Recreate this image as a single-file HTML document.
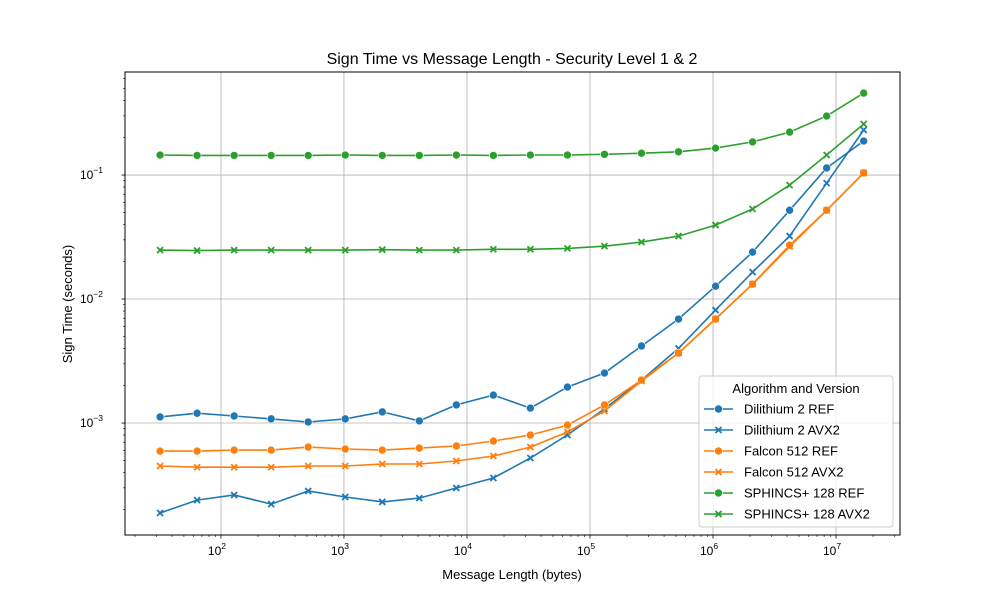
<!DOCTYPE html>
<html><head><meta charset="utf-8"><style>
body{margin:0;background:#fff}
svg{display:block;font-family:"Liberation Sans","DejaVu Sans",sans-serif}
</style></head><body>
<svg id="chart" width="1000" height="600" viewBox="0 0 1000 600" xmlns="http://www.w3.org/2000/svg">
<rect width="1000" height="600" fill="#fff"/>
<g id="grid"></g>
<g id="axes"></g>
<g id="series"></g>
<rect x="125" y="72" width="775" height="463" fill="none" stroke="#000" stroke-width="1"/>
<text x="512" y="64" font-size="16" text-anchor="middle">Sign Time vs Message Length - Security Level 1 &amp; 2</text>
<text x="512" y="579" font-size="13" text-anchor="middle">Message Length (bytes)</text>
<text x="72" y="304" font-size="13" text-anchor="middle" transform="rotate(-90 72 304)">Sign Time (seconds)</text>
<g id="legend"></g>
</svg>
<script>
const messageLengths = [32,64,128,256,512,1024,2048,4096,8192,16384,32768,65536,131072,262144,524288,1048576,2097152,4194304,8388608,16777216];
const dilithiumRef = [1.12e-3,1.20e-3,1.14e-3,1.08e-3,1.02e-3,1.08e-3,1.23e-3,1.04e-3,1.40e-3,1.68e-3,1.32e-3,1.95e-3,2.53e-3,4.18e-3,6.9e-3,1.27e-2,2.39e-2,5.2e-2,0.114,0.188];
const dilithiumAvx2 = [1.88e-4,2.39e-4,2.63e-4,2.22e-4,2.83e-4,2.53e-4,2.31e-4,2.48e-4,2.99e-4,3.60e-4,5.22e-4,8.0e-4,1.30e-3,2.22e-3,4.0e-3,8.15e-3,1.65e-2,3.22e-2,8.6e-2,0.231];
const falconRef = [5.94e-4,5.94e-4,6.05e-4,6.05e-4,6.4e-4,6.17e-4,6.05e-4,6.28e-4,6.53e-4,7.16e-4,8.0e-4,9.63e-4,1.40e-3,2.22e-3,3.67e-3,6.9e-3,1.32e-2,2.72e-2,5.2e-2,0.104];
const falconAvx2 = [4.5e-4,4.4e-4,4.4e-4,4.4e-4,4.5e-4,4.5e-4,4.67e-4,4.67e-4,4.94e-4,5.42e-4,6.4e-4,8.46e-4,1.25e-3,2.18e-3,3.67e-3,6.9e-3,1.32e-2,2.65e-2,5.2e-2,0.104];
const sphincsRef = [0.145,0.144,0.144,0.144,0.144,0.145,0.144,0.144,0.145,0.144,0.145,0.145,0.147,0.150,0.154,0.165,0.185,0.222,0.299,0.458];
const sphincsAvx2 = [2.48e-2,2.46e-2,2.48e-2,2.48e-2,2.48e-2,2.48e-2,2.5e-2,2.48e-2,2.48e-2,2.52e-2,2.52e-2,2.56e-2,2.67e-2,2.88e-2,3.22e-2,3.95e-2,5.32e-2,8.3e-2,0.145,0.258];
const seriesNames = ["Dilithium 2 REF","Dilithium 2 AVX2","Falcon 512 REF","Falcon 512 AVX2","SPHINCS+ 128 REF","SPHINCS+ 128 AVX2"];
const xTickExps = [2,3,4,5,6,7];
const yTickExps = [-3,-2,-1];

const NS="http://www.w3.org/2000/svg";
const X0=125,X1=900,Y0=72,Y1=535;
const xlo=1.22,xhi=7.52,ylo=-3.903,yhi=-0.169;
function xs(v){return X0+(Math.log10(v)-xlo)/(xhi-xlo)*(X1-X0);}
function ys(v){return Y1-(Math.log10(v)-ylo)/(yhi-ylo)*(Y1-Y0);}
function mk(tag,attrs,parent){const e=document.createElementNS(NS,tag);for(const k in attrs)e.setAttribute(k,attrs[k]);parent.appendChild(e);return e;}
const grid=document.getElementById('grid'),axes=document.getElementById('axes'),ser=document.getElementById('series'),leg=document.getElementById('legend');

for(const e of xTickExps){
  const x=xs(Math.pow(10,e));
  const g=mk('line',{x1:x,x2:x,y1:Y0,y2:Y1,stroke:'#b0b0b0','stroke-width':0.8},grid);
  
  
  mk('line',{x1:x,x2:x,y1:Y1,y2:Y1+3.5,stroke:'#000','stroke-width':0.8},axes);
  const t=mk('text',{x:x-4,y:Y1+20,'font-size':12,'text-anchor':'middle'},axes);
  
  
  t.textContent='10';
  const s=mk('tspan',{dy:-6,'font-size':8.5},t);s.textContent=String(e);
}
for(let e=1;e<=7;e++)for(let m=2;m<=9;m++){const v=m*Math.pow(10,e);const lv=Math.log10(v);if(lv<xlo||lv>xhi)continue;const x=xs(v);mk('line',{x1:x,x2:x,y1:Y1,y2:Y1+2,stroke:'#000','stroke-width':0.6},axes);}
for(const e of yTickExps){
  const y=ys(Math.pow(10,e));
  const g=mk('line',{x1:X0,x2:X1,y1:y,y2:y,stroke:'#b0b0b0','stroke-width':0.8},grid);
  
  
  mk('line',{x1:X0-3.5,x2:X0,y1:y,y2:y,stroke:'#000','stroke-width':0.8},axes);
  const t=mk('text',{x:X0-22,y:y+4,'font-size':12,'text-anchor':'end'},axes);
  
  
  t.textContent='10';
  const s=mk('tspan',{dy:-6,'font-size':8.5},t);s.textContent='\u2212'+Math.abs(e);
}
for(let e=-4;e<=-1;e++)for(let m=2;m<=9;m++){const v=m*Math.pow(10,e);const lv=Math.log10(v);if(lv<ylo||lv>yhi)continue;const y=ys(v);mk('line',{x1:X0-2,x2:X0,y1:y,y2:y,stroke:'#000','stroke-width':0.6},axes);}

const colors=['#1f77b4','#1f77b4','#ff7f0e','#ff7f0e','#2ca02c','#2ca02c'];
const data=[dilithiumRef,dilithiumAvx2,falconRef,falconAvx2,sphincsRef,sphincsAvx2];
const slugs=['dilithium-2-ref','dilithium-2-avx2','falcon-512-ref','falcon-512-avx2','sphincs-128-ref','sphincs-128-avx2'];
function marker(x,y,i,parent){
  if(i%2===0){return mk('circle',{cx:x,cy:y,r:4,fill:colors[i],stroke:'#fff','stroke-width':0.6},parent);}
  const g=mk('path',{d:`M${x-3},${y-3}L${x+3},${y+3}M${x-3},${y+3}L${x+3},${y-3}`,stroke:colors[i],'stroke-width':1.8},parent);return g;
}
data.forEach((arr,i)=>{
  const g=mk('g',{},ser);
  
  
  const pts=arr.map((v,j)=>xs(messageLengths[j]).toFixed(1)+','+ys(v).toFixed(1)).join(' ');
  const l=mk('polyline',{points:pts,fill:'none',stroke:colors[i],'stroke-width':1.6},g);
  
  
  arr.forEach((v,j)=>{
    const m=marker(xs(messageLengths[j]),ys(v),i,g);
    
    
  });
});

mk('rect',{x:699,y:376,width:194,height:151,rx:3,fill:'#fff','fill-opacity':0.8,stroke:'#ccc','stroke-width':1},leg);
const lt=mk('text',{x:796,y:393,'font-size':13,'text-anchor':'middle'},leg);


lt.textContent='Algorithm and Version';
seriesNames.forEach((n,i)=>{
  const y=409+i*21;
  const g=mk('g',{},leg);
  
  
  mk('line',{x1:704,x2:733,y1:y,y2:y,stroke:colors[i],'stroke-width':1.6},g);
  marker(718.5,y,i,g);
  const t=mk('text',{x:744,y:y+4.5,'font-size':13},g);
  t.textContent=n;
});
</script>
</body></html>
